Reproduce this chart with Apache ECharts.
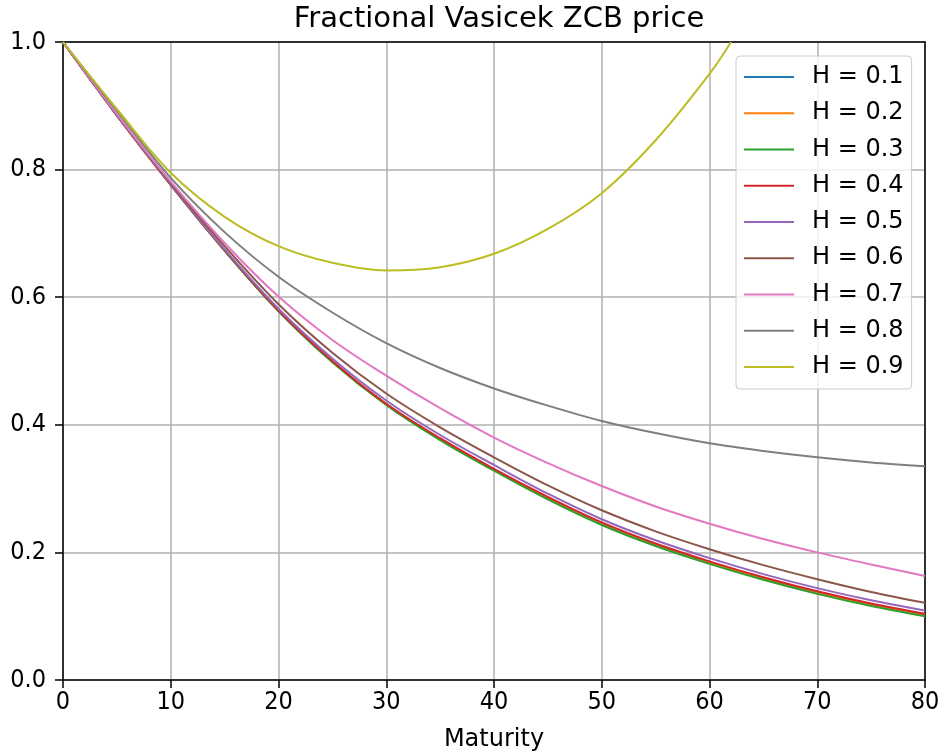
<!DOCTYPE html>
<html>
<head>
<meta charset="utf-8">
<script src="https://cdn.jsdelivr.net/npm/echarts@6/dist/echarts.min.js"></script>
<style>
  html, body { margin: 0; padding: 0; background: #ffffff; }
  #chart { width: 942px; height: 756px; }
</style>
</head>
<body>
<div id="chart"></div>
<script>
// Maturities (years) at which the bond prices are sampled
const maturities = [0, 5, 10, 15, 20, 25, 30, 35, 40, 45, 50, 55, 60, 65, 70, 75, 80];
// H = 0.9 leaves the [0, 1] price range shortly after 60 years
const maturitiesH09 = [0, 5, 10, 15, 20, 25, 30, 35, 40, 45, 50, 55, 60, 62];

// Zero-coupon bond prices per Hurst exponent
const priceH01 = [1.0, 0.885, 0.776, 0.673, 0.579, 0.499, 0.432, 0.377, 0.330, 0.285, 0.245, 0.212, 0.184, 0.159, 0.137, 0.118, 0.102];
const priceH02 = [1.0, 0.885, 0.776, 0.673, 0.579, 0.499, 0.432, 0.377, 0.329, 0.284, 0.244, 0.211, 0.183, 0.158, 0.136, 0.117, 0.101];
const priceH03 = [1.0, 0.885, 0.776, 0.673, 0.578, 0.498, 0.431, 0.376, 0.328, 0.283, 0.243, 0.210, 0.182, 0.157, 0.135, 0.116, 0.100];
const priceH04 = [1.0, 0.885, 0.776, 0.674, 0.579, 0.500, 0.433, 0.379, 0.331, 0.287, 0.247, 0.214, 0.186, 0.161, 0.139, 0.120, 0.104];
const priceH05 = [1.0, 0.885, 0.777, 0.675, 0.582, 0.504, 0.438, 0.384, 0.337, 0.292, 0.252, 0.219, 0.191, 0.166, 0.144, 0.125, 0.109];
const priceH06 = [1.0, 0.886, 0.779, 0.680, 0.589, 0.513, 0.449, 0.396, 0.349, 0.305, 0.266, 0.233, 0.205, 0.180, 0.158, 0.138, 0.121];
const priceH07 = [1.0, 0.887, 0.781, 0.685, 0.601, 0.533, 0.477, 0.426, 0.380, 0.340, 0.304, 0.272, 0.245, 0.221, 0.200, 0.181, 0.163];
const priceH08 = [1.0, 0.892, 0.787, 0.702, 0.632, 0.576, 0.528, 0.489, 0.457, 0.430, 0.406, 0.387, 0.371, 0.359, 0.349, 0.341, 0.335];
const priceH09 = [1.0, 0.895, 0.795, 0.726, 0.680, 0.654, 0.642, 0.647, 0.668, 0.707, 0.763, 0.846, 0.950, 1.0];

const hurstLabels = ['H = 0.1', 'H = 0.2', 'H = 0.3', 'H = 0.4', 'H = 0.5', 'H = 0.6', 'H = 0.7', 'H = 0.8', 'H = 0.9'];
const palette = ['#1f77b4', '#ff7f0e', '#2ca02c', '#d62728', '#9467bd', '#8c564b', '#e377c2', '#7f7f7f', '#bcbd22'];

const curves = [
  [maturities, priceH01], [maturities, priceH02], [maturities, priceH03],
  [maturities, priceH04], [maturities, priceH05], [maturities, priceH06],
  [maturities, priceH07], [maturities, priceH08], [maturitiesH09, priceH09]
];

const font = 'DejaVu Sans';
const tickFont = "'Liberation Sans Narrow', 'DejaVu Sans Condensed', 'DejaVu Sans'";

const series = curves.map(function (c, i) {
  return {
    name: hurstLabels[i],
    type: 'line',
    xAxisIndex: 0,
    yAxisIndex: 0,
    data: c[0].map(function (t, k) { return [t, c[1][k]]; }),
    smooth: 0.35,
    symbol: 'none',
    clip: true,
    lineStyle: { width: 2, color: palette[i] },
    itemStyle: { color: palette[i] }
  };
});

const spine = { show: true, onZero: false, lineStyle: { color: '#000', width: 1.5 } };

const chart = echarts.init(document.getElementById('chart'), null, { renderer: 'canvas' });
chart.setOption({
  animation: false,
  backgroundColor: '#ffffff',
  color: palette,
  title: {
    text: 'Fractional Vasicek ZCB price',
    left: 494,
    textAlign: 'center',
    top: 0,
    textStyle: { fontFamily: font, fontSize: 29, fontWeight: 'normal', color: '#000' }
  },
  grid: {
    left: 63, right: 17, top: 42, bottom: 76,
    show: false, containLabel: false, outerBoundsMode: 'none'
  },
  legend: {
    orient: 'vertical',
    left: 736,
    top: 56,
    padding: [8, 8, 9, 8],
    itemWidth: 50,
    itemHeight: 2,
    itemGap: 10.25,
    icon: 'rect',
    backgroundColor: 'rgba(255,255,255,0.8)',
    borderColor: '#cccccc',
    borderWidth: 1,
    borderRadius: 4,
    textStyle: { fontFamily: font, fontSize: 24, color: '#000', lineHeight: 26, padding: [0, 0, 0, 13] },
    data: hurstLabels
  },
  xAxis: [{
    type: 'value',
    position: 'bottom',
    min: 0,
    max: 80,
    interval: 10,
    name: 'Maturity',
    nameLocation: 'middle',
    nameGap: 48,
    nameTextStyle: { fontFamily: font, fontSize: 24, color: '#000' },
    axisLine: spine,
    axisTick: { show: true, length: 8, lineStyle: { color: '#000', width: 1.5 } },
    axisLabel: { fontFamily: tickFont, fontSize: 25, color: '#000', margin: 10 },
    splitLine: { show: true, lineStyle: { color: '#b0b0b0', width: 1.5 } }
  }, {
    type: 'value',
    position: 'top',
    min: 0,
    max: 80,
    axisLine: spine,
    axisTick: { show: false },
    axisLabel: { show: false },
    splitLine: { show: false }
  }],
  yAxis: [{
    type: 'value',
    position: 'left',
    min: 0,
    max: 1,
    interval: 0.2,
    axisLine: spine,
    axisTick: { show: true, length: 8, lineStyle: { color: '#000', width: 1.5 } },
    axisLabel: {
      fontFamily: tickFont, fontSize: 25, color: '#000', margin: 17,
      formatter: function (v) { return v.toFixed(1); }
    },
    splitLine: { show: true, lineStyle: { color: '#b0b0b0', width: 1.5 } }
  }, {
    type: 'value',
    position: 'right',
    min: 0,
    max: 1,
    axisLine: spine,
    axisTick: { show: false },
    axisLabel: { show: false },
    splitLine: { show: false }
  }],
  series: series
});
</script>
</body>
</html>
